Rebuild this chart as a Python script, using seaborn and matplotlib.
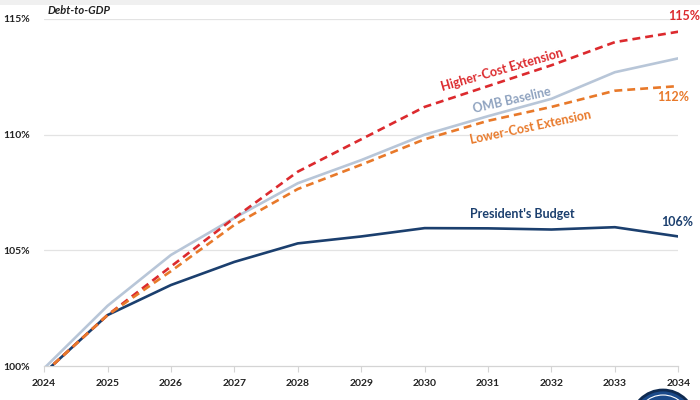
import numpy as np
import pandas as pd
import seaborn as sns
import matplotlib.pyplot as plt
import matplotlib
from matplotlib.patches import Rectangle, Circle
from matplotlib.transforms import IdentityTransform

# values (debt-to-GDP, %)
years = [2024, 2025, 2026, 2027, 2028, 2029, 2030, 2031, 2032, 2033, 2034]
omb_baseline = [99.9, 102.6, 104.8, 106.4, 107.9, 108.9, 110.0, 110.8, 111.55, 112.7, 113.3]
presidents_budget = [99.7, 102.2, 103.5, 104.5, 105.3, 105.6, 105.96, 105.95, 105.9, 106.0, 105.6]
higher_cost = [99.7, 102.2, 104.3, 106.4, 108.4, 109.8, 111.2, 112.1, 113.0, 114.0, 114.45]
lower_cost = [99.7, 102.2, 104.1, 106.1, 107.65, 108.7, 109.8, 110.6, 111.2, 111.9, 112.1]

y_ticks = [100, 105, 110, 115]
y_tick_labels = ['100%', '105%', '110%', '115%']

series = {
    'OMB Baseline': omb_baseline,
    "President's Budget": presidents_budget,
    'Higher-Cost Extension': higher_cost,
    'Lower-Cost Extension': lower_cost,
}
df = pd.DataFrame([
    {'year': y, 'series': name, 'value': v}
    for name, vals in series.items() for y, v in zip(years, vals)
])

sns.set_theme(style='white')
matplotlib.rcParams['font.family'] = ['Lato', 'DejaVu Sans']

colors = {
    'OMB Baseline': '#b8c6d8',
    "President's Budget": '#1b3f6e',
    'Higher-Cost Extension': '#dc2a2e',
    'Lower-Cost Extension': '#e8792a',
}
dashed = {'Higher-Cost Extension', 'Lower-Cost Extension'}

fig = plt.figure(figsize=(7, 4), dpi=100)
ax = fig.add_axes([0.063, 0.085, 0.906, 0.8675])

# draw order: gray, blue, red, orange on top
for i, name in enumerate(['OMB Baseline', "President's Budget",
                          'Higher-Cost Extension', 'Lower-Cost Extension']):
    d = df[df['series'] == name]
    sns.lineplot(data=d, x='year', y='value', ax=ax, color=colors[name],
                 linewidth=1.9, zorder=3 + i)
    if name in dashed:
        ax.lines[-1].set_dashes((3.0, 1.9))

ax.set_xlim(2024, 2034)
ax.set_ylim(100, 115)
ax.set_xticks(years)
ax.set_xticklabels([str(y) for y in years], fontsize=7.5, fontweight='bold', color='#222222')
ax.set_yticks(y_ticks)
ax.set_yticklabels(y_tick_labels, fontsize=7.5, fontweight='bold', color='#222222')
ax.set_xlabel('')
ax.set_ylabel('')

for y in y_ticks[1:]:
    ax.axhline(y, color='#e3e3e3', linewidth=0.9, zorder=1)

for s in ['top', 'right', 'left']:
    ax.spines[s].set_visible(False)
ax.spines['bottom'].set_color('#d4d4d4')
ax.spines['bottom'].set_linewidth(0.9)
ax.tick_params(axis='x', bottom=True, length=4, width=0.8, color='#d4d4d4', pad=5)
ax.tick_params(axis='y', left=False, pad=4)

# series labels
lab = dict(fontsize=9, fontweight='bold', ha='center', va='center')
ax.text(2031.22, 112.8, 'Higher-Cost Extension', color='#dc2a2e', rotation=16, **lab)
ax.text(2031.37, 111.5, 'OMB Baseline', color='#8ea2bf', rotation=13, **lab)
ax.text(2031.67, 110.3, 'Lower-Cost Extension', color='#e8792a', rotation=12, **lab)
ax.text(2031.54, 106.57, "President's Budget", color='#1b3f6e', **lab)

# end values
ax.text(2034.1, 115.13, '115%', color='#dc2a2e', clip_on=False, **lab)
ax.text(2033.92, 111.63, '112%', color='#e8792a', clip_on=False, **lab)
ax.text(2033.98, 106.22, '106%', color='#1b3f6e', clip_on=False, **lab)

ax.text(2024.06, 115.38, 'Debt-to-GDP', color='#222222', fontsize=8,
        fontweight='bold', fontstyle='italic', ha='left', va='center', clip_on=False)

# thin gray band at top and logo stub at bottom right
fig.patches.append(Rectangle((0, 0.988), 1, 0.012, transform=fig.transFigure,
                             facecolor='#f0f0f0', edgecolor='none', zorder=-5))
fig.patches.append(Circle((663, -22), 32, transform=IdentityTransform(),
                          facecolor='#1b4a8a', edgecolor='#0f2a50', linewidth=2))
fig.patches.append(Circle((663, -22), 27, transform=IdentityTransform(),
                          facecolor='none', edgecolor='white', linewidth=0.8))

fig.savefig('out.png', dpi=100)
